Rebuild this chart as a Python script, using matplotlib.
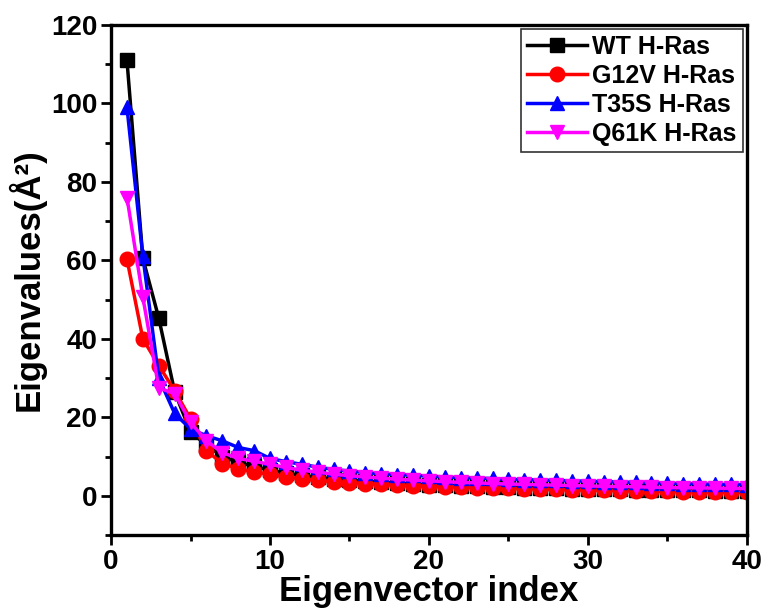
import matplotlib
matplotlib.use("Agg")
import matplotlib.pyplot as plt
from matplotlib.ticker import MultipleLocator

plt.rcParams['font.family'] = ['Liberation Sans', 'DejaVu Sans']
plt.rcParams['font.weight'] = 'bold'

# Data
index = list(range(1, 41))

wt = [111, 60.5, 45.3, 26.5, 16.2, 13.0, 10.0, 8.5, 7.5, 6.5,
      5.8, 5.2, 4.7, 4.3, 4.0, 3.7, 3.4, 3.2, 3.0, 2.8,
      2.7, 2.5, 2.4, 2.3, 2.2, 2.1, 2.0, 1.9, 1.8, 1.75,
      1.7, 1.6, 1.55, 1.5, 1.45, 1.4, 1.35, 1.3, 1.25, 1.2]

g12v = [60.3, 40.0, 33.2, 26.8, 19.6, 11.5, 8.2, 6.9, 6.0, 5.5,
        4.8, 4.3, 3.9, 3.6, 3.3, 3.1, 2.9, 2.7, 2.5, 2.4,
        2.3, 2.2, 2.1, 2.0, 1.9, 1.8, 1.7, 1.6, 1.5, 1.45,
        1.4, 1.3, 1.25, 1.2, 1.1, 1.05, 1.0, 0.95, 0.9, 0.85]

t35s = [99.0, 61.0, 30.0, 21.0, 17.0, 15.3, 14.0, 12.3, 11.5, 9.5,
        8.7, 8.0, 7.3, 6.7, 6.3, 5.9, 5.6, 5.4, 5.2, 5.0,
        4.8, 4.6, 4.5, 4.4, 4.2, 4.1, 4.0, 3.9, 3.8, 3.7,
        3.6, 3.5, 3.4, 3.3, 3.2, 3.1, 3.0, 2.95, 2.9, 2.85]

q61k = [76.0, 50.6, 27.5, 26.0, 18.7, 14.0, 11.0, 9.5, 8.8, 8.0,
        7.2, 6.5, 6.0, 5.5, 5.1, 4.8, 4.5, 4.2, 4.0, 3.8,
        3.6, 3.4, 3.3, 3.1, 3.0, 2.9, 2.8, 2.7, 2.6, 2.5,
        2.4, 2.35, 2.3, 2.2, 2.1, 2.05, 2.0, 1.95, 1.9, 1.85]

fig = plt.figure(figsize=(7.66, 6.10), dpi=100)
ax = fig.add_axes([0.145, 0.123, 0.83, 0.836])

ax.plot(index, wt, 'k-', marker='s', lw=2.5, ms=9.5, label='WT H-Ras')
ax.plot(index, g12v, color='red', marker='o', lw=2.5, ms=10.5, label='G12V H-Ras')
ax.plot(index, t35s, color='blue', marker='^', lw=2.5, ms=10.5, label='T35S H-Ras')
ax.plot(index, q61k, color='magenta', marker='v', lw=2.5, ms=10.5, label='Q61K H-Ras')

ax.set_xlim(0, 40)
ax.set_ylim(-10, 120)
ax.xaxis.set_major_locator(MultipleLocator(10))
ax.xaxis.set_minor_locator(MultipleLocator(5))
ax.yaxis.set_major_locator(MultipleLocator(20))
ax.yaxis.set_minor_locator(MultipleLocator(10))
ax.tick_params(which='major', direction='out', length=7, width=2, labelsize=20, pad=3)
ax.tick_params(which='minor', direction='out', length=4, width=2)
for s in ax.spines.values():
    s.set_linewidth(2.4)

ax.set_xlabel("Eigenvector index", fontsize=25, fontweight='bold', labelpad=0)
ax.set_ylabel("Eigenvalues(Å²)", fontsize=25, fontweight='bold', labelpad=4)

leg = ax.legend(loc='upper right', fontsize=18, frameon=True, fancybox=False,
                edgecolor='black', handlelength=2.4, handletextpad=0.2,
                borderpad=0.25, labelspacing=0.2, borderaxespad=0.15)
leg.get_frame().set_linewidth(1.2)

fig.savefig("out.png", dpi=100)
